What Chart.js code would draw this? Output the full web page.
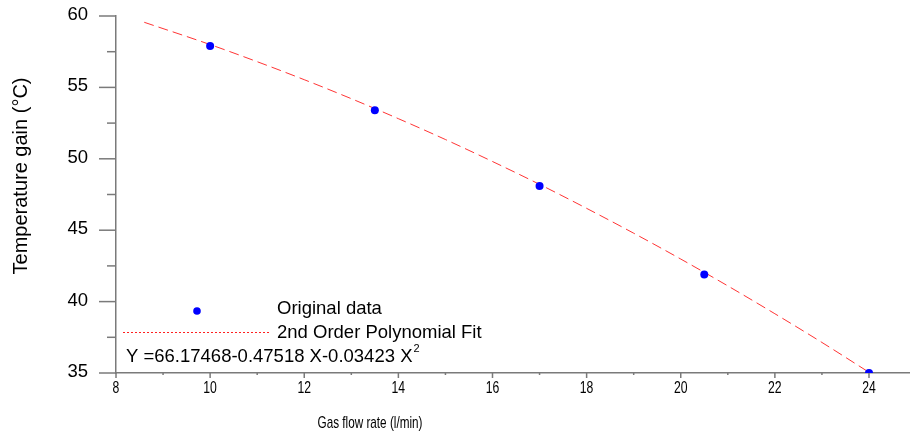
<!DOCTYPE html>
<html>
<head>
<meta charset="utf-8">
<script src="https://cdn.jsdelivr.net/npm/chart.js@4/dist/chart.umd.min.js"></script>
<style>
  html, body { margin: 0; padding: 0; background: #fff; }
  #wrap { width: 913px; height: 434px; position: relative; }
</style>
</head>
<body>
<div id="wrap"><canvas id="tempChart"></canvas></div>
<script>
// measured points
const flowRates = [10, 13.5, 17, 20.5, 24];
const tempGain = [57.9, 53.4, 48.1, 41.9, 35.0];

// fitted curve
const fitX = [8.6, 10, 11, 12, 13, 14, 15, 16, 17, 18, 19, 20, 21, 22, 23, 24];
const fitY = [59.56, 58.0, 56.8, 55.54, 54.21, 52.81, 51.35, 49.81, 48.21, 46.53, 44.79, 42.98, 41.10, 39.15, 37.14, 35.05];

const xTickLabels = ['8', '10', '12', '14', '16', '18', '20', '22', '24'];
const yTickLabels = ['35', '40', '45', '50', '55', '60'];

const xTitle = 'Gas flow rate (l/min)';
const yTitle = 'Temperature gain (°C)';
const legendPoints = 'Original data';
const legendFit = '2nd Order Polynomial Fit';
const equation = 'Y =66.17468-0.47518 X-0.03423 X';

const AXIS_COLOR = '#7a7a7a';
const FONT = '"Liberation Sans", Arial, sans-serif';

// ticks, tick labels, titles and the in-plot legend
const decorPlugin = {
  id: 'decor',
  afterDraw(c) {
    const ctx = c.ctx;
    const xs = c.scales.x;
    const ys = c.scales.y;
    const area = c.chartArea;
    ctx.save();
    ctx.strokeStyle = AXIS_COLOR;
    ctx.lineWidth = 1.5;
    ctx.fillStyle = '#000';

    // x ticks
    xs.ticks.forEach(t => {
      const px = xs.getPixelForValue(t.value);
      const major = t.value % 2 === 0;
      ctx.beginPath();
      ctx.moveTo(px, area.bottom);
      ctx.lineTo(px, area.bottom + (major ? 5 : 2));
      ctx.stroke();
      if (major && xTickLabels.includes(String(t.value))) {
        ctx.save();
        ctx.translate(px, 388);
        ctx.scale(0.74, 1);
        ctx.font = '16.5px ' + FONT;
        ctx.textAlign = 'center';
        ctx.textBaseline = 'middle';
        ctx.fillText(String(t.value), 0, 0);
        ctx.restore();
      }
    });

    // y ticks
    ys.ticks.forEach(t => {
      const py = ys.getPixelForValue(t.value);
      const major = t.value % 5 === 0;
      ctx.beginPath();
      ctx.moveTo(area.left, py);
      ctx.lineTo(area.left - (major ? 17 : 9), py);
      ctx.stroke();
      if (major && yTickLabels.includes(String(t.value))) {
        ctx.font = '18.5px ' + FONT;
        ctx.textAlign = 'right';
        ctx.textBaseline = 'middle';
        ctx.fillText(String(t.value), 88, py - 1);
      }
    });

    // axis titles
    ctx.save();
    ctx.translate(370, 423);
    ctx.scale(0.69, 1);
    ctx.font = '17px ' + FONT;
    ctx.textAlign = 'center';
    ctx.textBaseline = 'middle';
    ctx.fillText(xTitle, 0, 0);
    ctx.restore();

    ctx.save();
    ctx.translate(21, 176);
    ctx.rotate(-Math.PI / 2);
    ctx.font = '20px ' + FONT;
    ctx.textAlign = 'center';
    ctx.textBaseline = 'middle';
    ctx.fillText(yTitle, 0, 0);
    ctx.restore();

    // legend
    ctx.fillStyle = '#0000ff';
    ctx.beginPath();
    ctx.arc(197, 311, 3.8, 0, Math.PI * 2);
    ctx.fill();

    ctx.strokeStyle = '#ff2020';
    ctx.lineWidth = 1;
    ctx.setLineDash([2, 2]);
    ctx.beginPath();
    ctx.moveTo(123, 332.5);
    ctx.lineTo(271, 332.5);
    ctx.stroke();
    ctx.setLineDash([]);

    ctx.fillStyle = '#000';
    ctx.font = '18.5px ' + FONT;
    ctx.textAlign = 'left';
    ctx.textBaseline = 'middle';
    ctx.fillText(legendPoints, 277, 309);
    ctx.fillText(legendFit, 277, 333);
    ctx.fillText(equation, 126, 357);
    const w = ctx.measureText(equation).width;
    ctx.font = '11px ' + FONT;
    ctx.fillText('2', 126 + w + 1, 349);
    ctx.restore();
  }
};

new Chart(document.getElementById('tempChart'), {
  type: 'scatter',
  data: {
    datasets: [
      {
        label: legendFit,
        type: 'line',
        data: fitX.map((x, i) => ({ x, y: fitY[i] })),
        borderColor: 'rgba(255,30,30,0.9)',
        borderWidth: 1,
        borderDash: [10, 5],
        pointRadius: 0,
        tension: 0.4,
        cubicInterpolationMode: 'monotone',
        fill: false,
        order: 2,
      },
      {
        label: legendPoints,
        data: flowRates.map((x, i) => ({ x, y: tempGain[i] })),
        backgroundColor: '#0000ff',
        borderColor: '#0000ff',
        pointRadius: 4,
        pointBorderWidth: 0,
        clip: { left: 6, top: 6, right: 6, bottom: 0 },
        order: 1,
      },
    ],
  },
  options: {
    responsive: true,
    maintainAspectRatio: false,
    animation: false,
    layout: { padding: { left: 116, top: 16, right: 0, bottom: 61 } },
    plugins: {
      legend: { display: false },
      tooltip: { enabled: false },
    },
    scales: {
      x: {
        type: 'linear',
        min: 8,
        max: 24.85,
        ticks: { display: false, stepSize: 1, includeBounds: false },
        grid: { display: false, drawTicks: false },
        border: { display: true, color: AXIS_COLOR, width: 1.5 },
      },
      y: {
        type: 'linear',
        min: 35,
        max: 60,
        ticks: { display: false, stepSize: 2.5 },
        grid: { display: false, drawTicks: false },
        border: { display: true, color: AXIS_COLOR, width: 1.5 },
      },
    },
  },
  plugins: [decorPlugin],
});
</script>
</body>
</html>
